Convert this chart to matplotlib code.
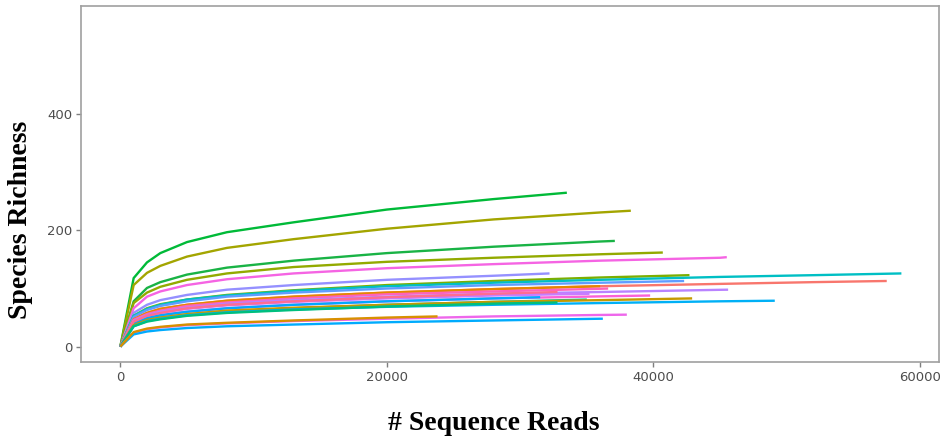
import matplotlib
matplotlib.use("Agg")
import matplotlib.pyplot as plt

# Rarefaction depths shared by all samples (reads); each curve also ends at its own depth
depth_grid = [0, 1000, 2000, 3000, 5000, 8000, 13000, 20000, 28000, 36000, 45000, 52000]

sample_ids = ["S01", "S02", "S03", "S04", "S05", "S06", "S07", "S08",
              "S09", "S10", "S11", "S12", "S13", "S14", "S15", "S16",
              "S17", "S18", "S19", "S20", "S21", "S22", "S23", "S24"]

sample_depth = [33500, 38300, 37100, 40700, 45500, 32200, 42700, 58600,
                42300, 57500, 36000, 36600, 45600, 39750, 35200, 31500,
                32800, 35000, 42900, 49100, 32800, 38000, 36200, 23800]

sample_colors = ["#00BA38", "#A3A500", "#19B345", "#93AA00", "#F564E3", "#9590FF",
                 "#7CAE00", "#00BFC4", "#619CFF", "#F8766D", "#E58700", "#FF62BC",
                 "#B983FF", "#FB61D7", "#C77CFF", "#00A9FF", "#FF6C91", "#00C1A3",
                 "#C49A00", "#00B0F6", "#00BF7D", "#EE67EB", "#00ABFD", "#D89000"]

# Observed species richness at each depth (grid points below the sample depth, then the sample depth)
richness = [
    [0, 118, 145, 161, 180, 197, 214, 236, 254, 265],
    [0, 106, 127, 139, 155, 170, 185, 203, 219, 231, 234],
    [0, 78, 101, 111, 124, 136, 148, 161, 172, 181, 182],
    [0, 75, 93, 103, 115, 126, 137, 146, 153, 159, 162],
    [0, 66, 86, 95, 106, 116, 126, 135, 142, 148, 153, 154],
    [0, 58, 72, 80, 89, 98, 106, 115, 122, 126],
    [0, 53, 66, 73, 81, 89, 97, 106, 113, 119, 123],
    [0, 53, 65, 72, 81, 88, 96, 104, 110, 115, 120, 123, 126],
    [0, 51, 63, 70, 78, 86, 93, 100, 106, 110, 113],
    [0, 47, 58, 65, 72, 79, 86, 93, 99, 104, 108, 111, 113],
    [0, 47, 58, 65, 72, 79, 86, 93, 99, 104],
    [0, 46, 56, 62, 70, 76, 83, 90, 95, 99.6, 100],
    [0, 44, 54, 60, 67, 74, 80, 86, 91, 94, 97.8, 98],
    [0, 40, 49, 54, 60, 66, 72, 78, 83, 86.5, 88],
    [0, 42, 52, 58, 65, 71, 77, 83, 88, 91],
    [0, 40, 49, 54, 60, 66, 72, 78, 83, 85],
    [0, 43, 53, 58, 66, 72, 78, 85, 91, 94],
    [0, 36, 45, 50, 55, 61, 66, 72, 77, 81],
    [0, 37, 46, 50, 56, 62, 67, 72, 77, 80, 83],
    [0, 35, 44, 48, 54, 59, 64, 68.5, 72, 75, 78, 79],
    [0, 35, 43, 47, 53, 58, 63, 69, 74, 76],
    [0, 24, 30, 33, 37, 40, 44, 48, 52, 54.5, 55],
    [0, 21, 26, 28.5, 32, 35, 38, 42, 45, 48, 48],
    [0, 25, 31, 34, 38, 41, 45, 50, 52],
]

x_ticks = [0, 20000, 40000, 60000]
y_ticks = [0, 200, 400]

fig = plt.figure(figsize=(9.47, 4.43), dpi=100)
ax = fig.add_axes([0.0859, 0.1822, 0.9057, 0.8049])

for sid, end, col, vals in zip(sample_ids, sample_depth, sample_colors, richness):
    depths = [d for d in depth_grid if d < end] + [end]
    ax.plot(depths, vals, color=col, lw=1.7, solid_capstyle="butt", label=sid)

ax.set_xlim(-2925, 61425)
ax.set_ylim(-27, 587)
ax.set_xticks(x_ticks)
ax.set_xticklabels([str(t) for t in x_ticks])
ax.set_yticks(y_ticks)
ax.set_yticklabels([str(t) for t in y_ticks])

for s in ax.spines.values():
    s.set_color("#A0A0A0")
    s.set_linewidth(1.2)
ax.tick_params(axis="both", colors="#7F7F7F", length=3.5, width=1.0,
               labelcolor="#4D4D4D", labelsize=9.5, pad=3)

fig.text(0.521, 0.043, "# Sequence Reads", ha="center", va="center",
         family="Liberation Serif", fontweight="bold", fontsize=20)
fig.text(0.022, 0.503, "Species Richness", ha="center", va="center", rotation=90,
         family="Liberation Serif", fontweight="bold", fontsize=20)

fig.savefig("out.png", dpi=100)
